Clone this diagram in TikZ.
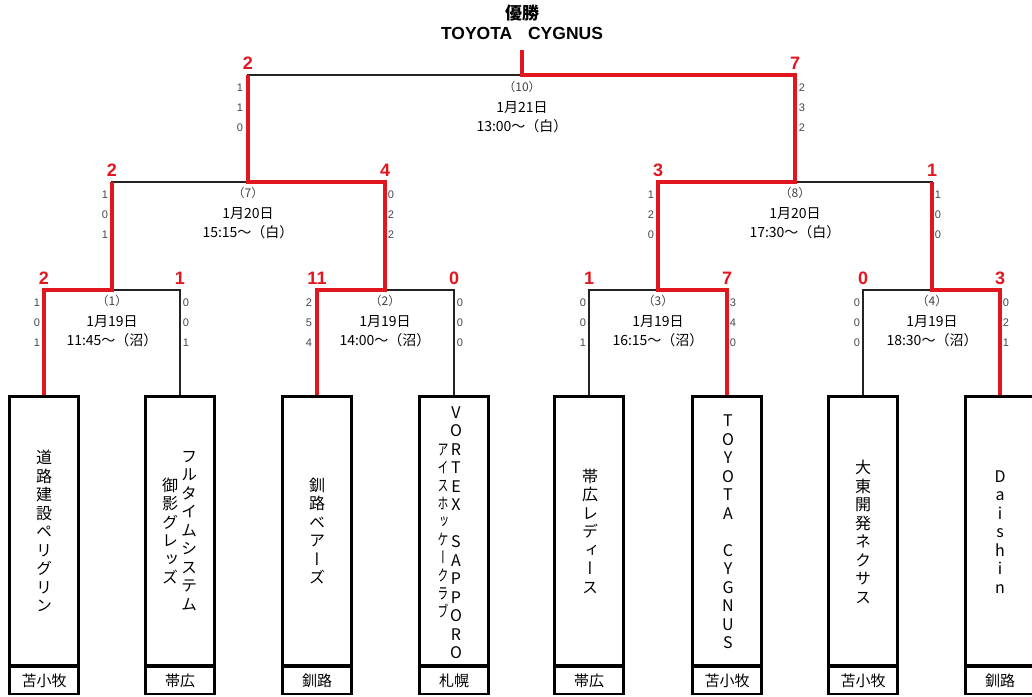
\documentclass[tikz,border=0pt]{standalone}
\usepackage{fontspec}
\setmainfont{Noto Sans CJK JP}
\newfontfamily\jpv[RawFeature=+vert]{Noto Sans CJK JP}
\newfontfamily\lat{Liberation Sans}
\definecolor{winred}{RGB}{226,22,30}
\definecolor{pergray}{RGB}{70,70,70}
\definecolor{linegray}{RGB}{35,35,35}
\begin{document}
\begin{tikzpicture}[x=1pt,y=-1pt,
  blk/.style={line width=1.8pt, linegray},
  win/.style={line width=4pt, winred, line join=miter},
  namebox/.style={draw, line width=2.2pt, minimum width=69pt, minimum height=268pt, inner sep=0pt},
  regbox/.style={draw, line width=2.2pt, minimum width=69pt, minimum height=27pt, inner sep=0pt, anchor=north, font=\fontsize{15}{15}\selectfont},
  vname/.style={font=\jpv\fontsize{16}{18.5}\selectfont, align=center, inner sep=0pt},
  vnamen/.style={font=\jpv\fontsize{16}{18.1}\selectfont, align=center, inner sep=0pt, xscale=0.68},
  big/.style={font=\lat\bfseries\fontsize{18}{18}\selectfont, text=winred, inner sep=0pt},
  per/.style={font=\lat\fontsize{11}{20}\selectfont, text=pergray, align=center, inner sep=0pt},
  mno/.style={font=\fontsize{12}{12}\selectfont, text=black!75, inner sep=0pt},
  minfo/.style={font=\fontsize{14}{19}\selectfont, align=center, inner sep=0pt},
]
\useasboundingbox (0,0) rectangle (1032,696);

% title
\node[font=\bfseries\fontsize{17}{17}\selectfont, inner sep=0pt] (yusho) at (522,13) {優勝};
\node[font=\lat\bfseries\fontsize{17.5}{17.5}\selectfont, inner sep=0pt] (champname) at (522,33) {TOYOTA\hspace{0.9em}CYGNUS};

% team boxes
\node[namebox] (t1) at (44,531) {};
\node[namebox] (t2) at (180,531) {};
\node[namebox] (t3) at (317,531) {};
\node[namebox] (t4) at (454,531) {};
\node[namebox] (t5) at (589,531) {};
\node[namebox] (t6) at (727,531) {};
\node[namebox] (t7) at (863,531) {};
\node[namebox] (t8) at (1000,531) {};

\node[regbox] (r1) at (t1.south) {苫小牧};
\node[regbox] (r2) at (t2.south) {帯広};
\node[regbox] (r3) at (t3.south) {釧路};
\node[regbox] (r4) at (t4.south) {札幌};
\node[regbox] (r5) at (t5.south) {帯広};
\node[regbox] (r6) at (t6.south) {苫小牧};
\node[regbox] (r7) at (t7.south) {苫小牧};
\node[regbox] (r8) at (t8.south) {釧路};

% team names (vertical)
\node[vname] (n1) at (44,531) {道\\路\\建\\設\\ペ\\リ\\グ\\リ\\ン};
\node[vname] (n2a) at (189,531) {フ\\ル\\タ\\イ\\ム\\シ\\ス\\テ\\ム};
\node[vname] (n2b) at (170,531) {御\\影\\グ\\レ\\ッ\\ズ};
\node[vname] (n3) at (317,531) {釧\\路\\ベ\\ア\\ー\\ズ};
\node[vname] (n4a) at (456,532.5) {V\\O\\R\\T\\E\\X\\\mbox{}\\S\\A\\P\\P\\O\\R\\O};
\node[vnamen] (n4b) at (443,531) {ア\\イ\\ス\\ホ\\ッ\\ケ\\ー\\ク\\ラ\\ブ};
\node[vname] (n5) at (590,531) {帯\\広\\レ\\デ\\ィ\\ー\\ス};
\node[vname] (n6) at (728,532) {T\\O\\Y\\O\\T\\A\\\mbox{}\\C\\Y\\G\\N\\U\\S};
\node[vname] (n7) at (863,532) {大\\東\\開\\発\\ネ\\ク\\サ\\ス};
\node[vname] (n8) at (1000,532) {D\\a\\i\\s\\h\\i\\n};

% match points
\coordinate (m1) at (112,290);
\coordinate (m2) at (385,290);
\coordinate (m3) at (658,290);
\coordinate (m4) at (932,290);
\coordinate (m7) at (248,182);
\coordinate (m8) at (795,182);
\coordinate (m10) at (522,75);
\coordinate (champ) at (522,50);

% black bracket
\draw[blk] (t1.north) |- (m1) -| (t2.north);
\draw[blk] (t3.north) |- (m2) -| (t4.north);
\draw[blk] (t5.north) |- (m3) -| (t6.north);
\draw[blk] (t7.north) |- (m4) -| (t8.north);
\draw[blk] (m1) |- (m7) -| (m2);
\draw[blk] (m3) |- (m8) -| (m4);
\draw[blk] (m7) |- (m10) -| (m8);

% winners
\draw[win] (t1.north) |- (m1) -- (m1 |- m7);
\draw[win] (t3.north) |- (m2) -- (m2 |- m7) -- (m7) -- (m7 |- m10);
\draw[win] (t6.north) |- (m3) -- (m3 |- m8) -- (m8) -- (m8 |- m10) -- (m10) -- (champ);
\draw[win] (t8.north) |- (m4) -- (m4 |- m8);

% redraw boxes' top borders over red ends
\foreach \t in {t1,t2,t3,t4,t5,t6,t7,t8}{
  \draw[line width=2.2pt] (\t.north west) -- (\t.north east);
}

% big scores
\node[big] (s1l) at (44,278) {2};
\node[big] (s1r) at (180,278) {1};
\node[big] (s2l) at (317,278) {11};
\node[big] (s2r) at (454,278) {0};
\node[big] (s3l) at (589,278) {1};
\node[big] (s3r) at (727,278) {7};
\node[big] (s4l) at (863,278) {0};
\node[big] (s4r) at (1000,278) {3};
\node[big] (s7l) at (112,170) {2};
\node[big] (s7r) at (385,170) {4};
\node[big] (s8l) at (658,170) {3};
\node[big] (s8r) at (932,170) {1};
\node[big] (s10l) at (248,63) {2};
\node[big] (s10r) at (795,63) {7};

% period scores
\node[per] (p1l) at (37,323) {1\\0\\1};
\node[per] (p1r) at (186,323) {0\\0\\1};
\node[per] (p2l) at (309,323) {2\\5\\4};
\node[per] (p2r) at (460,323) {0\\0\\0};
\node[per] (p3l) at (583,323) {0\\0\\1};
\node[per] (p3r) at (733,323) {3\\4\\0};
\node[per] (p4l) at (857,323) {0\\0\\0};
\node[per] (p4r) at (1006,323) {0\\2\\1};
\node[per] (p7l) at (105,215) {1\\0\\1};
\node[per] (p7r) at (391,215) {0\\2\\2};
\node[per] (p8l) at (651,215) {1\\2\\0};
\node[per] (p8r) at (938,215) {1\\0\\0};
\node[per] (p10l) at (240,108) {1\\1\\0};
\node[per] (p10r) at (802,108) {2\\3\\2};

% match info
\node[mno] (g1) at (112,301) {（1）};
\node[minfo] (i1) at (112,331) {1月19日\\11:45～（沼）};
\node[mno] (g2) at (385,301) {（2）};
\node[minfo] (i2) at (385,331) {1月19日\\14:00～（沼）};
\node[mno] (g3) at (658,301) {（3）};
\node[minfo] (i3) at (658,331) {1月19日\\16:15～（沼）};
\node[mno] (g4) at (932,301) {（4）};
\node[minfo] (i4) at (932,331) {1月19日\\18:30～（沼）};
\node[mno] (g7) at (248,193) {（7）};
\node[minfo] (i7) at (248,223) {1月20日\\15:15～（白）};
\node[mno] (g8) at (795,193) {（8）};
\node[minfo] (i8) at (795,223) {1月20日\\17:30～（白）};
\node[mno] (g10) at (522,87) {（10）};
\node[minfo] (i10) at (522,117) {1月21日\\13:00～（白）};
\end{tikzpicture}
\end{document}
